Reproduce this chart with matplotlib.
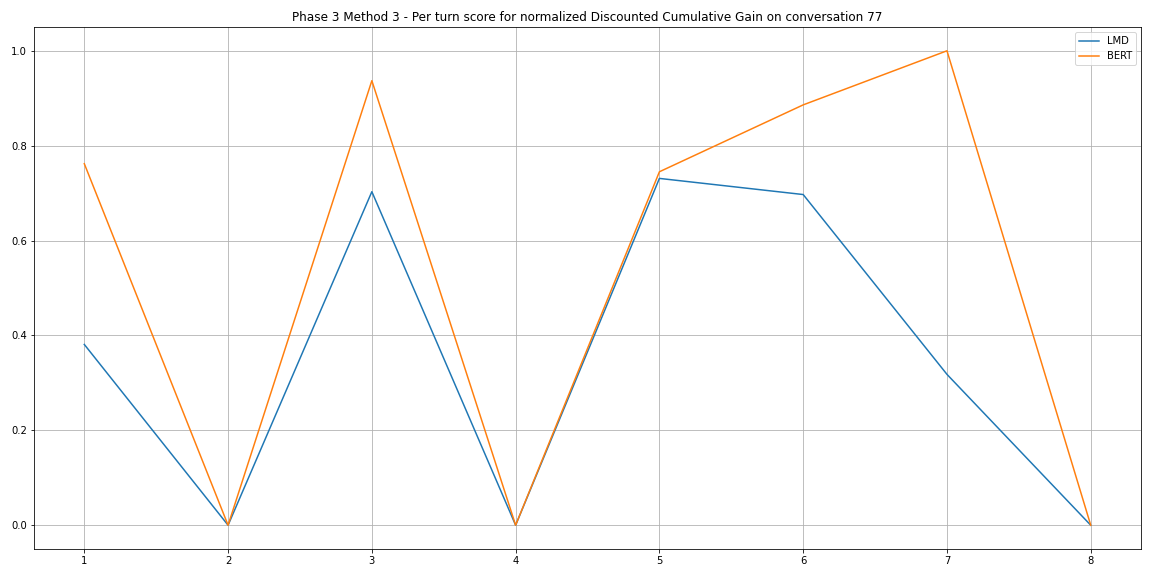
import numpy as np
import matplotlib.pyplot as plt

turns = [1, 2, 3, 4, 5, 6, 7, 8]
lmd = [0.381, 0.0, 0.703, 0.0, 0.731, 0.697, 0.318, 0.0]
bert = [0.762, 0.0, 0.937, 0.0, 0.745, 0.886, 1.0, 0.0]

fig, ax = plt.subplots(figsize=(16, 8), dpi=72)
fig.subplots_adjust(left=0.0295, right=0.9905, top=0.953, bottom=0.047)

ax.plot(turns, lmd, label='LMD')
ax.plot(turns, bert, label='BERT')

ax.set_title('Phase 3 Method 3 - Per turn score for normalized Discounted Cumulative Gain on conversation 77')
ax.grid(True)
ax.legend(loc='upper right')

fig.savefig('out.png')
